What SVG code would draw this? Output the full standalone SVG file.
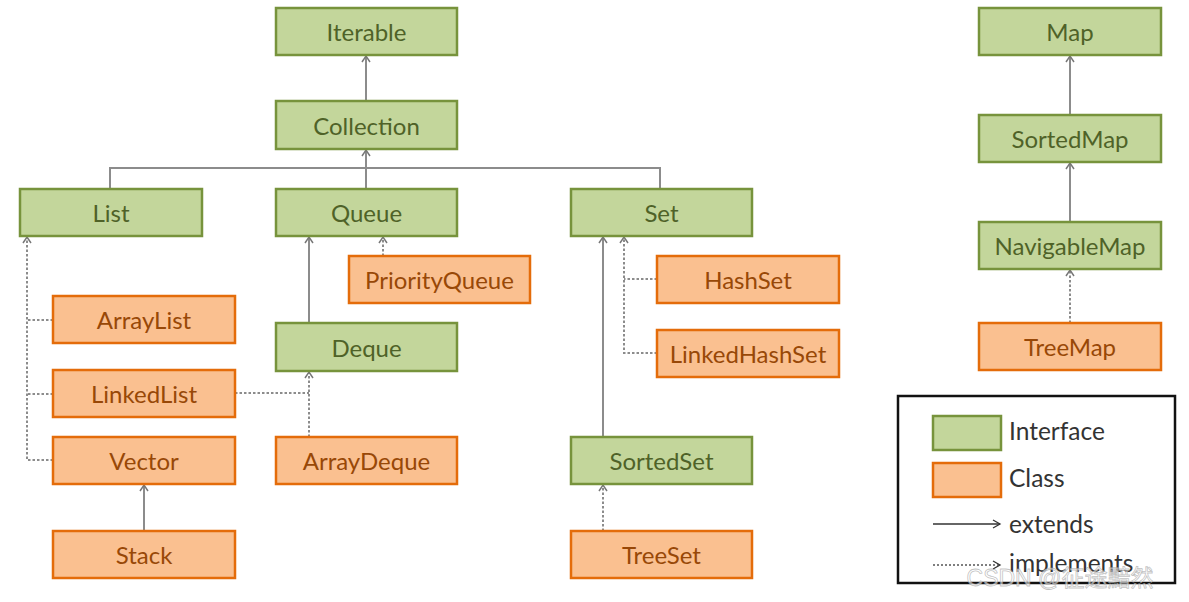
<svg xmlns="http://www.w3.org/2000/svg" width="1189" height="602" viewBox="0 0 1189 602">
<style>
.i rect{fill:#c3d69b;stroke:#77933c;stroke-width:2.5}
.c rect{fill:#fac090;stroke:#e46c0a;stroke-width:2.5}
text{font-family:Lato,"Open Sans","Liberation Sans",sans-serif;font-size:24px;text-anchor:middle;dominant-baseline:central}
.i text{fill:#4f6228}
.c text{fill:#984807}
.s{fill:none;stroke:#8c8c8c;stroke-width:2}
.d{fill:none;stroke:#8c8c8c;stroke-width:2;stroke-dasharray:2.5 2}
.lg text{fill:#333;text-anchor:start;font-size:24.5px}
</style>
<defs>
<marker id="a" markerUnits="userSpaceOnUse" markerWidth="12" markerHeight="12" refX="9" refY="6" orient="auto">
<path d="M3,2 L9,6 L3,10" fill="none" stroke="#777" stroke-width="1.5"/>
</marker>
<marker id="b" markerUnits="userSpaceOnUse" markerWidth="12" markerHeight="12" refX="10" refY="6" orient="auto">
<path d="M3,2 L10,6 L3,10" fill="none" stroke="#333" stroke-width="1.3"/>
</marker>
</defs>
<g id="connectors">
<path class="s" d="M366,101 V56" marker-end="url(#a)"/>
<path class="s" d="M110,189 V168 H660 V189"/>
<path class="s" d="M366,189 V150" marker-end="url(#a)"/>
<path class="d" d="M53,460 H27 V237" marker-end="url(#a)"/>
<path class="d" d="M53,320 H27"/>
<path class="d" d="M53,394 H27"/>
<path class="d" d="M383,256 V237" marker-end="url(#a)"/>
<path class="s" d="M309,323 V237" marker-end="url(#a)"/>
<path class="d" d="M309,437 V372" marker-end="url(#a)"/>
<path class="d" d="M235,393 H309"/>
<path class="s" d="M144,531 V485" marker-end="url(#a)"/>
<path class="s" d="M603,437 V237" marker-end="url(#a)"/>
<path class="d" d="M657,353 H624 V237" marker-end="url(#a)"/>
<path class="d" d="M657,279 H624"/>
<path class="d" d="M603,531 V485" marker-end="url(#a)"/>
<path class="s" d="M1070,115 V56" marker-end="url(#a)"/>
<path class="s" d="M1070,222 V163" marker-end="url(#a)"/>
<path class="d" d="M1070,323 V270" marker-end="url(#a)"/>
</g>
<g id="Iterable" class="i"><rect x="276" y="8" width="181" height="47"/><text x="366.5" y="31.5">Iterable</text></g>
<g id="Collection" class="i"><rect x="276" y="101" width="181" height="48"/><text x="366.5" y="125">Collection</text></g>
<g id="List" class="i"><rect x="20" y="189" width="182" height="47"/><text x="111" y="212.5">List</text></g>
<g id="Queue" class="i"><rect x="276" y="189" width="181" height="47"/><text x="366.5" y="212.5">Queue</text></g>
<g id="Set" class="i"><rect x="571" y="189" width="181" height="47"/><text x="661.5" y="212.5">Set</text></g>
<g id="PriorityQueue" class="c"><rect x="349" y="256" width="181" height="47"/><text x="439.5" y="279.5">PriorityQueue</text></g>
<g id="Deque" class="i"><rect x="276" y="323" width="181" height="48"/><text x="366.5" y="347">Deque</text></g>
<g id="ArrayList" class="c"><rect x="53" y="296" width="182" height="47"/><text x="144" y="319.5">ArrayList</text></g>
<g id="LinkedList" class="c"><rect x="53" y="370" width="182" height="47"/><text x="144" y="393.5">LinkedList</text></g>
<g id="Vector" class="c"><rect x="53" y="437" width="182" height="47"/><text x="144" y="460.5">Vector</text></g>
<g id="Stack" class="c"><rect x="53" y="531" width="182" height="47"/><text x="144" y="554.5">Stack</text></g>
<g id="ArrayDeque" class="c"><rect x="276" y="437" width="181" height="47"/><text x="366.5" y="460.5">ArrayDeque</text></g>
<g id="HashSet" class="c"><rect x="657" y="256" width="182" height="47"/><text x="748" y="279.5">HashSet</text></g>
<g id="LinkedHashSet" class="c"><rect x="657" y="330" width="182" height="47"/><text x="748" y="353.5">LinkedHashSet</text></g>
<g id="SortedSet" class="i"><rect x="571" y="437" width="181" height="47"/><text x="661.5" y="460.5">SortedSet</text></g>
<g id="TreeSet" class="c"><rect x="571" y="531" width="181" height="47"/><text x="661.5" y="554.5">TreeSet</text></g>
<g id="Map" class="i"><rect x="979" y="8" width="182" height="47"/><text x="1070" y="31.5">Map</text></g>
<g id="SortedMap" class="i"><rect x="979" y="115" width="182" height="47"/><text x="1070" y="138.5">SortedMap</text></g>
<g id="NavigableMap" class="i"><rect x="979" y="222" width="182" height="47"/><text x="1070" y="245.5">NavigableMap</text></g>
<g id="TreeMap" class="c"><rect x="979" y="323" width="182" height="47"/><text x="1070" y="346.5">TreeMap</text></g>
<g id="legend" class="lg">
<rect x="898" y="396" width="277" height="187" fill="#fff" stroke="#111" stroke-width="2.5"/>
<g class="i"><rect x="933" y="416" width="68" height="34"/></g>
<g class="c"><rect x="933" y="463" width="68" height="34"/></g>
<text x="1009" y="430">Interface</text>
<text x="1009" y="477">Class</text>
<path d="M933,524 H1000" stroke="#333" stroke-width="1.3" fill="none" marker-end="url(#b)"/>
<text x="1009" y="523">extends</text>
<path d="M933,565 H1000" stroke="#555" stroke-width="1.3" stroke-dasharray="2 2" fill="none" marker-end="url(#b)"/>
<text x="1009" y="562">implements</text>
</g>
<text x="1060" y="578" style="font-family:'Liberation Sans','Noto Sans CJK SC',sans-serif;font-size:23px;fill:#fff;fill-opacity:0.6;stroke:#999;stroke-opacity:0.6;stroke-width:0.8">CSDN @征途黯然</text>
</svg>
